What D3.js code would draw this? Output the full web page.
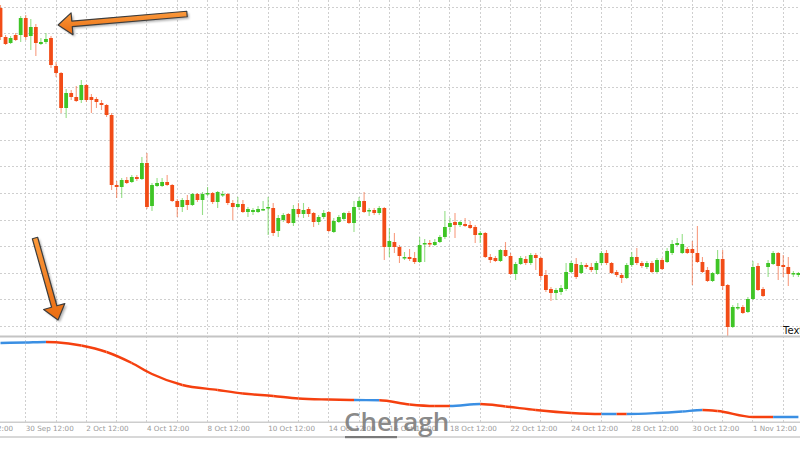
<!DOCTYPE html>
<html><head><meta charset="utf-8">
<script src="https://cdn.jsdelivr.net/npm/d3@7"></script>
<style>html,body{margin:0;padding:0;background:#fff;overflow:hidden}</style>
</head><body><svg id="c" width="800" height="450"></svg>
<script>
// ---- data (4-hour candles) ----
const openP = [392,363,357,365,365,382,364,373,356,358,
362,334,327,292,307,303,300,315,303,301,
297,295,285,215,213,220,218,223,221,237,
194,214,214,218,215,199,193,200,195,206,
200,206,207,198,205,206,197,193,196,188,
188,188,190,192,192,169,180,186,177,191,
186,191,187,178,183,188,168,178,181,187,
177,193,199,189,190,187,192,153,158,153,
142,143,142,138,156,157,155,158,163,173,
178,175,176,175,173,165,167,143,142,139,
150,144,126,136,141,137,145,142,125,111,
107,108,111,128,136,127,135,133,130,137,
147,137,128,125,122,135,143,137,133,137,
128,140,138,147,155,147,151,151,147,138,
130,119,126,141,115,73,92,93,88,101,
134,111,133,136,147,135,133,126,125];
const highP = [395,365,364,367,384,385,381,376,362,367,
364,338,328,311,310,314,320,316,306,303,
300,296,287,219,222,223,225,225,243,247,
217,222,222,225,216,201,202,205,207,207,
208,213,208,209,209,207,200,203,200,193,
192,194,199,203,197,185,187,187,195,197,
197,193,188,185,190,189,182,185,188,189,
199,203,208,192,192,194,193,172,167,155,
148,151,148,163,161,160,161,165,189,182,
187,179,182,179,175,169,168,146,144,151,
158,147,138,144,144,147,147,143,130,113,
112,115,137,139,142,138,137,137,139,149,
150,138,130,127,137,148,152,139,139,139,
142,142,152,160,162,166,153,159,174,143,
133,128,150,150,116,95,97,95,103,139,
137,113,140,149,148,145,143,129,128];
const lowP = [360,355,356,359,358,360,350,344,355,356,
332,323,287,282,300,298,297,298,287,292,
290,283,210,202,202,216,217,219,220,191,
189,213,213,214,198,183,188,190,194,198,
185,204,196,192,203,195,180,192,187,183,
185,187,189,165,164,163,178,176,174,183,
182,183,173,175,181,168,167,177,179,176,
168,190,187,184,185,185,140,143,147,137,
140,139,136,137,138,153,154,157,161,168,
162,173,173,171,157,157,142,137,138,138,
143,125,120,135,135,135,130,120,108,99,
100,105,109,127,121,126,131,128,126,135,
135,126,123,117,121,133,135,132,131,127,
127,130,137,145,154,146,146,115,137,127,
118,118,125,110,64,72,90,86,87,100,
109,103,123,135,120,123,114,123,123];
const closeP = [363,356,362,360,382,363,373,357,358,361,
335,327,292,307,303,299,315,300,300,298,
295,285,215,213,220,217,223,221,237,193,
215,217,218,215,199,193,200,195,206,200,
206,207,198,208,206,197,193,196,188,191,
190,191,191,193,167,182,185,177,191,186,
190,186,178,183,187,169,179,183,187,177,
193,199,188,190,187,192,153,159,153,144,
143,141,138,155,157,156,158,163,173,177,
175,178,174,172,165,167,143,140,139,150,
144,126,136,142,137,145,142,124,110,107,
110,112,128,137,123,135,133,130,137,147,
137,127,125,122,135,143,137,134,137,128,
140,131,149,156,157,156,147,147,138,128,
119,127,141,114,73,93,93,87,101,133,
110,104,137,147,134,133,126,127,127];

// price grid levels (no labels visible)
const priceGrid = [74,100.6,127.2,153.8,180.4,207,233.6,260.2,286.8,313.4,340,366.6,393.2];

// trading days (gridline at 12:00 of each day), labels on every other day
const days = ["26 Sep","27 Sep","30 Sep","1 Oct","2 Oct","3 Oct","4 Oct","7 Oct","8 Oct","9 Oct",
"10 Oct","11 Oct","14 Oct","15 Oct","16 Oct","17 Oct","18 Oct","21 Oct","22 Oct","23 Oct",
"24 Oct","25 Oct","28 Oct","29 Oct","30 Oct","31 Oct","1 Nov","4 Nov"];
const tickSuffix = " 12:00";

// lower indicator (candle index, value) and trend of each segment
const indIndex = [0,5,9,11,16,21,26,30,36,43,48,54,59,65,70,75,81,86,89,95,100,106,113,119,122,124,130,135,139,142,149,153,158];
const indValue = [87,87.5,88,87.7,84.5,78,67,56,45,40,36.5,34,31.5,30.5,30,29.8,25.5,24,24,26,23.5,20,17,16,16,16,17,18.5,20,19,13,13,13];
const indTrend = ["up","up","down","down","down","down","down","down","down","down","down","down","down","down","up","down","down","down","up","down","down","down","down","up","down","up","up","up","down","down","down","up"];

// annotation arrows in data coordinates [candle index, price]
const arrowTails = [[36.93,386],[6.83,162]];
const arrowTips  = [[11.4,375],[11.39,80]];

// ---- drawing ----
const W = 800, H = 450;
const svg = d3.select("#c");
const n = openP.length;
const xScale = d3.scaleLinear().domain([0, 158]).range([0.5, 798.4]);
const yScale = d3.scaleLinear().domain([64, 400]).range([336, 0]);
const iScale = d3.scaleLinear().domain([8, 94]).range([422, 336]);
const UP = "#3fc526", DOWN = "#f24c17";
const gridCol = "#cfcfcf";

// horizontal grid (main panel)
svg.append("g").selectAll("line").data(priceGrid).join("line")
  .attr("x1", 0).attr("x2", W)
  .attr("y1", d => Math.round(yScale(d)) + 0.5).attr("y2", d => Math.round(yScale(d)) + 0.5)
  .attr("stroke", gridCol).attr("stroke-dasharray", "2,2");

// vertical grid (both panels)
const dayX = (k) => xScale(4.9 + 6 * (k - 2));
svg.append("g").selectAll("line").data(days).join("line")
  .attr("x1", (d,k) => Math.round(dayX(k)) + 0.5).attr("x2", (d,k) => Math.round(dayX(k)) + 0.5)
  .attr("y1", 0).attr("y2", 422)
  .attr("stroke", gridCol).attr("stroke-dasharray", "2,2");

// candles
const cg = svg.append("g");
const idx = d3.range(n);
const col = i => closeP[i] >= openP[i] ? UP : DOWN;
cg.selectAll("line").data(idx).join("line")
  .attr("x1", i => xScale(i)).attr("x2", i => xScale(i))
  .attr("y1", i => yScale(highP[i])).attr("y2", i => yScale(lowP[i]))
  .attr("stroke", col).attr("stroke-opacity", 0.55).attr("stroke-width", 1.1);
cg.selectAll("rect").data(idx).join("rect")
  .attr("x", i => xScale(i) - 1.9).attr("width", 3.8)
  .attr("y", i => yScale(Math.max(openP[i], closeP[i])))
  .attr("height", i => Math.max(1.5, Math.abs(yScale(openP[i]) - yScale(closeP[i]))))
  .attr("fill", col);

// panel separator and axis lines
svg.append("rect").attr("x", 0).attr("y", 335.5).attr("width", W).attr("height", 2).attr("fill", "#c4c4c4");
svg.append("rect").attr("x", 0).attr("y", 421.5).attr("width", W).attr("height", 1.5).attr("fill", "#cdcdcd");
svg.append("rect").attr("x", 0).attr("y", 436).attr("width", W).attr("height", 2).attr("fill", "#d8d8d8");

// indicator line, coloured by trend
const pts = indIndex.map((d, k) => [xScale(d), iScale(indValue[k])]);
const lineGen = d3.line().curve(d3.curveMonotoneX);
const defs = svg.append("defs");
const ig = svg.append("g");
indTrend.forEach((t, k) => {
  const x0 = xScale(indIndex[k]), x1 = xScale(indIndex[k + 1]);
  const id = "clipSeg" + k;
  defs.append("clipPath").attr("id", id).append("rect")
    .attr("x", k === 0 ? -10 : x0).attr("y", 330)
    .attr("width", (k === indTrend.length - 1 ? W + 10 : x1) - (k === 0 ? -10 : x0)).attr("height", 100);
  ig.append("path").attr("d", lineGen(pts)).attr("fill", "none")
    .attr("stroke", t === "up" ? "#3a8fe3" : "#f5400f").attr("stroke-width", 2.4)
    .attr("clip-path", `url(#${id})`);
});

// x tick labels
svg.append("g").selectAll("text").data(days.map((d,k)=>({d,k})).filter(o => o.k % 2 === 0)).join("text")
  .attr("x", o => dayX(o.k) + 0.5).attr("y", 431)
  .attr("font-family", "DejaVu Sans, Verdana, sans-serif").attr("font-size", 7.2)
  .attr("fill", "#9a9a9a").text(o => o.d + tickSuffix);

// watermark
svg.append("text").attr("x", 344).attr("y", 431).text("Cheragh")
  .attr("font-family", "Open Sans, sans-serif").attr("font-size", 26).attr("font-weight", 600)
  .attr("fill", "#7e7e7e").attr("fill-opacity", 0.92);
svg.append("rect").attr("x", 345).attr("y", 436).attr("width", 52).attr("height", 2.2).attr("fill", "#7a7a7a");

// "Text" label at right edge of main panel
svg.append("text").attr("x", 783).attr("y", 334).text("Text")
  .attr("font-family", "DejaVu Sans, sans-serif").attr("font-size", 10).attr("fill", "#111");

// arrows
const grad = defs.append("linearGradient").attr("id", "og").attr("x1", 0).attr("y1", 0).attr("x2", 0).attr("y2", 1);
grad.append("stop").attr("offset", 0).attr("stop-color", "#fb9a3c");
grad.append("stop").attr("offset", 1).attr("stop-color", "#ea6d12");
const blur = defs.append("filter").attr("id", "sh").attr("x", -0.5).attr("y", -0.5).attr("width", 2).attr("height", 2);
blur.append("feGaussianBlur").attr("stdDeviation", 1.2);
function arrowPoly(t, p, sw, hw, hl) {
  const dx = p[0] - t[0], dy = p[1] - t[1], L = Math.hypot(dx, dy);
  const ux = dx / L, uy = dy / L, px = -uy, py = ux;
  const nx = p[0] - ux * hl, ny = p[1] - uy * hl;
  return [
    [t[0] + px * sw / 2, t[1] + py * sw / 2],
    [nx + px * sw / 2, ny + py * sw / 2],
    [nx + px * hw / 2, ny + py * hw / 2],
    [p[0], p[1]],
    [nx - px * hw / 2, ny - py * hw / 2],
    [nx - px * sw / 2, ny - py * sw / 2],
    [t[0] - px * sw / 2, t[1] - py * sw / 2]
  ];
}
const ag = svg.append("g");
arrowTails.forEach((tl, k) => {
  const t = [xScale(tl[0]), yScale(tl[1])];
  const p = [xScale(arrowTips[k][0]), yScale(arrowTips[k][1])];
  const poly = arrowPoly(t, p, 5.5, 22, 14);
  const str = poly.map(q => q.join(",")).join(" ");
  ag.append("polygon").attr("points", poly.map(q => (q[0] + 2) + "," + (q[1] + 2)).join(" "))
    .attr("fill", "#000").attr("fill-opacity", 0.3).attr("filter", "url(#sh)");
  ag.append("polygon").attr("points", str).attr("fill", "url(#og)")
    .attr("stroke", "#3d3d3d").attr("stroke-width", 1.2).attr("stroke-linejoin", "round");
});
</script>
</body></html>
